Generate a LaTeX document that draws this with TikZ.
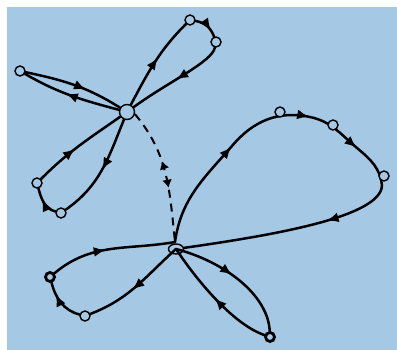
\documentclass[tikz,border=0pt]{standalone}
\usetikzlibrary{arrows.meta,decorations.markings,shapes.geometric}
\definecolor{bgblue}{RGB}{165,201,229}
\pgfdeclarelayer{back}
\pgfdeclarelayer{lines}
\pgfsetlayers{back,lines,main}
\tikzset{
  tip/.tip={Latex[length=12pt,width=10pt]},
  smalltip/.tip={Latex[length=8pt,width=10pt]},
  wire/.style={line width=2.5pt, line cap=round},
  dashwire/.style={line width=2pt, dash pattern=on 8pt off 6pt},
  arr/.style={postaction={decorate,decoration={markings,mark=at position #1 with {\arrow[solid]{tip}}}}},
  twoarr/.style={postaction={decorate,decoration={markings,
     mark=at position 0.40 with {\arrowreversed[solid]{smalltip}},
     mark=at position 0.60 with {\arrow[solid]{smalltip}}}}},
  dot/.style={circle, draw, line width=1.4pt, fill=bgblue, minimum size=10pt, inner sep=0pt},
  bigdot/.style={dot, minimum size=15pt},
  bolddot/.style={dot, line width=2.8pt, minimum size=9pt},
  hub/.style={ellipse, draw, line width=1.4pt, minimum width=15pt, minimum height=10pt, inner sep=0pt},
}
\begin{document}
\begin{tikzpicture}[x=1pt,y=1pt]
\useasboundingbox (0,0) rectangle (397,350);
\begin{pgfonlayer}{back}
\fill[bgblue] (7,0) rectangle (397,343);
\end{pgfonlayer}
% nodes
\node[bigdot] (A) at (127,238) {};
\node[dot] (L1) at (20,279) {};
\node[dot] (T1) at (190,330) {};
\node[dot] (T2) at (216,308) {};
\node[dot] (D1) at (37,167) {};
\node[dot] (D2) at (61,137) {};
\node[hub] (B) at (176,101) {};
\coordinate (Bj) at (175,108);
\node[dot] (R1) at (280,238) {};
\node[dot] (R2) at (333,225) {};
\node[dot] (R3) at (384,174) {};
\node[bolddot] (E1) at (50,73) {};
\node[dot] (E2) at (85,34) {};
\node[bolddot] (F1) at (270,13) {};
\coordinate (P1) at (232,204);
\coordinate (P2) at (310,233);
\coordinate (P3) at (357,202);
\coordinate (P3b) at (382,164);
\begin{pgfonlayer}{lines}
% upper cluster
\draw[wire,arr=0.62] (L1) to[out=-12,in=148] (A);
\draw[wire,arr=0.55] (A) to[out=165,in=-30] (L1);
\draw[wire,arr=0.55] (A) to[out=62,in=225] (T1);
\draw[wire,arr=0.72] (T1) to[out=-10,in=110] (T2);
\draw[wire,arr=0.5] (T2) .. controls (212,288) and (168,268) .. (A);
\draw[wire,arr=0.5] (A) to[out=-112,in=35] (D2);
\draw[wire,arr=0.62] (D2) to[out=165,in=-75] (D1);
\draw[wire,arr=0.45] (D1) to[out=45,in=215] (A);
% dashed link
\draw[dashwire,twoarr] (A.-15) to[out=-50,in=96] (Bj);
% big right loop
\draw[wire,arr=0.99] (Bj) to[out=82,in=229] (P1);
\draw[wire,arr=0.99] (P1) to[out=50,in=168] (P2);
\draw[wire,arr=0.99] (P2) to[out=-12,in=140] (P3);
\draw[wire] (P3) to[out=-40,in=95] (P3b);
\draw[wire,arr=0.32] (P3b) .. controls (379.4,134) and (282,116) .. (B.8);
% bottom left loop
\draw[wire,arr=0.45] (E1) to[out=40,in=190] (Bj);
\draw[wire,arr=0.55] (B.center) to[out=222,in=21] (E2);
\draw[wire,arr=0.72] (E2) to[out=165,in=-75] (E1);
% bottom right loop
\draw[wire,arr=0.47] (B.center) .. controls (225,88) and (268,55) .. (F1);
\draw[wire,arr=0.5] (F1) .. controls (235,25) and (200,65) .. (B.center);
\end{pgfonlayer}
\end{tikzpicture}
\end{document}
